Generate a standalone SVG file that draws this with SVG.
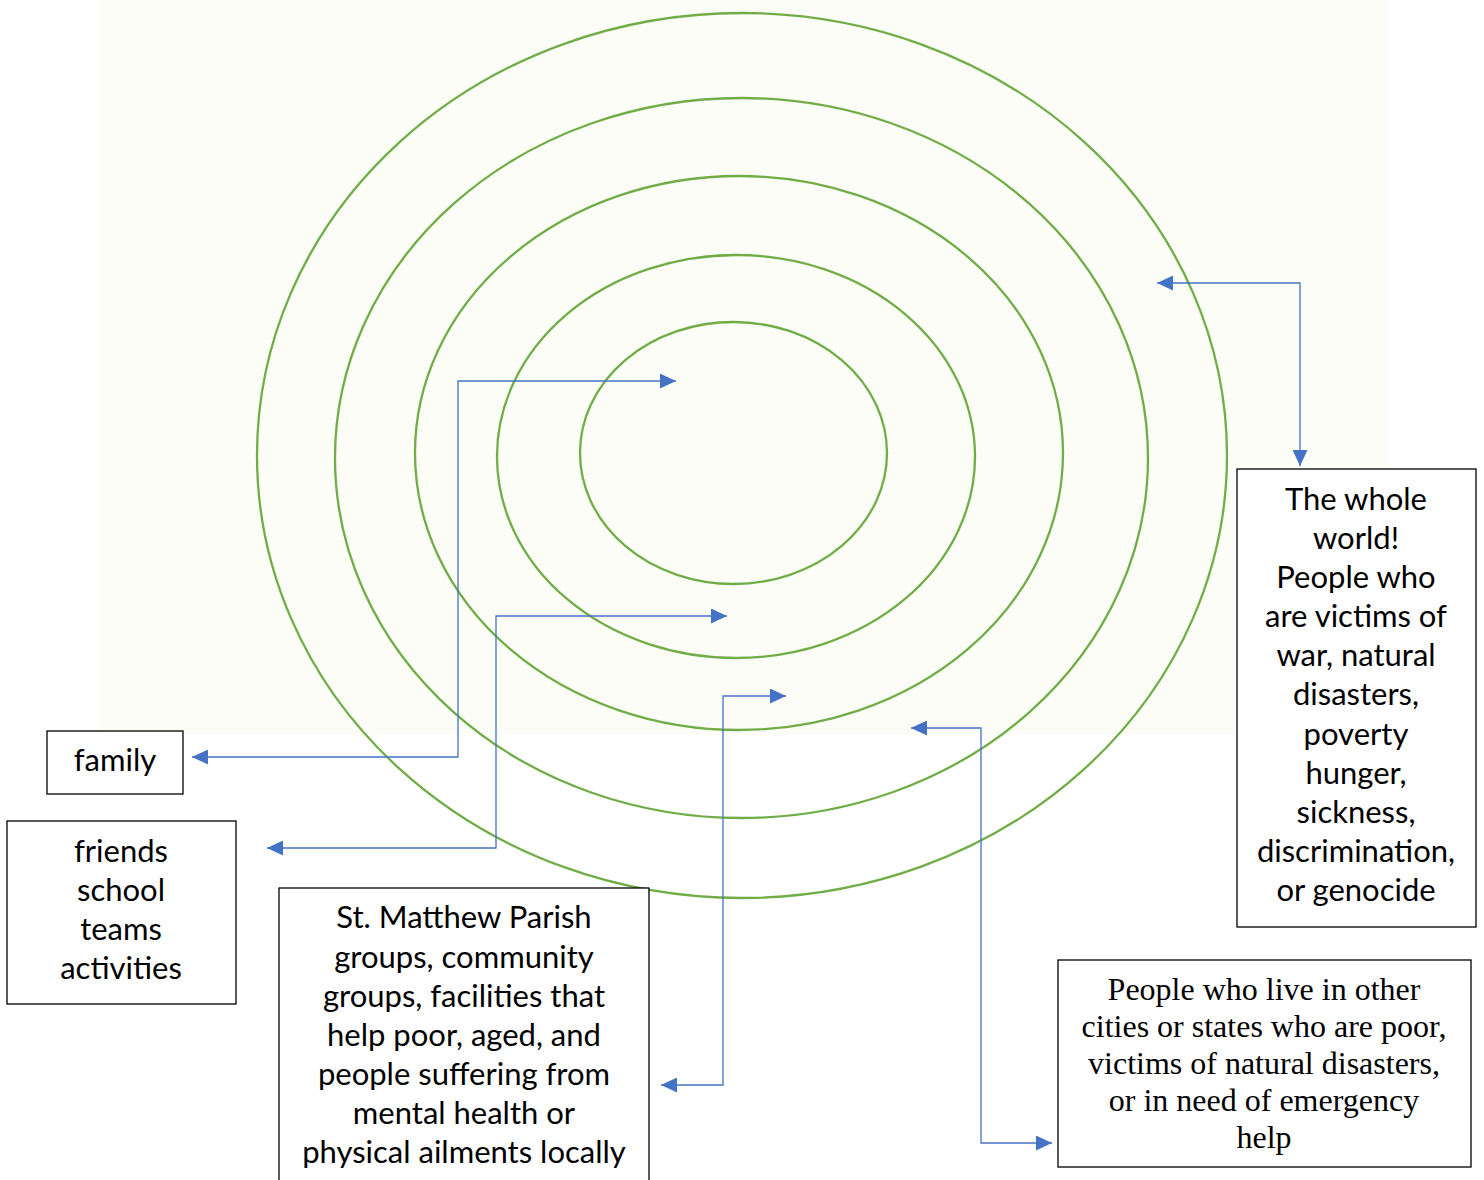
<svg xmlns="http://www.w3.org/2000/svg" width="1484" height="1180" viewBox="0 0 1484 1180">
<defs>
<marker id="arr" markerUnits="userSpaceOnUse" markerWidth="16" markerHeight="15" refX="16" refY="7.5" orient="auto-start-reverse" viewBox="0 0 16 15">
<path d="M0,0 L16,7.5 L0,15 z" fill="#4472C4"/>
</marker>
<style>
.ring{fill:none;stroke:#70AD47;stroke-width:2.3}
.con{fill:none;stroke:#4472C4;stroke-width:1.3;marker-start:url(#arr);marker-end:url(#arr)}
.box{fill:#fff;stroke:#000;stroke-width:1.3}
.sans{font-family:Lato,"Open Sans","Liberation Sans",sans-serif;font-size:31px;fill:#000;text-anchor:middle}
.serif{font-family:"Liberation Serif","Times New Roman",serif;font-size:32px;fill:#000;text-anchor:middle}
</style>
</defs>
<rect width="1484" height="1180" fill="#fff"/>
<rect x="98" y="0" width="1289" height="735" fill="#FDFDF8"/>
<g id="rings">
<ellipse class="ring" cx="742" cy="455.5" rx="485" ry="442.5"/>
<ellipse class="ring" cx="741.5" cy="458" rx="406.5" ry="360"/>
<ellipse class="ring" cx="739" cy="453" rx="324" ry="277"/>
<ellipse class="ring" cx="736" cy="456.5" rx="239" ry="201.5"/>
<ellipse class="ring" cx="733.5" cy="453" rx="153.5" ry="131"/>
</g>
<g id="connectors">
<path class="con" d="M192,757 H458 V381 H676"/>
<path class="con" d="M267,848 H496 V616 H727"/>
<path class="con" d="M661,1085 H723 V696 H786"/>
<path class="con" d="M911,728 H981 V1143 H1052"/>
<path class="con" d="M1157,283 H1300 V466"/>
</g>
<g id="family">
<rect class="box" x="47" y="731" width="136" height="63"/>
<text class="sans" x="115" y="771">family</text>
</g>
<g id="friends">
<rect class="box" x="7" y="821" width="229" height="183"/>
<text class="sans" x="121" y="862">friends</text>
<text class="sans" x="121" y="901">school</text>
<text class="sans" x="121" y="940">teams</text>
<text class="sans" x="121" y="979">activities</text>
</g>
<g id="parish">
<rect class="box" x="279" y="888" width="370" height="300"/>
<text class="sans" x="464" y="928">St. Matthew Parish</text>
<text class="sans" x="464" y="968">groups, community</text>
<text class="sans" x="464" y="1007">groups, facilities that</text>
<text class="sans" x="464" y="1046">help poor, aged, and</text>
<text class="sans" x="464" y="1085">people suffering from</text>
<text class="sans" x="464" y="1124">mental health or</text>
<text class="sans" x="464" y="1163">physical ailments locally</text>
</g>
<g id="world">
<rect class="box" x="1237" y="469" width="239" height="458"/>
<text class="sans" x="1356" y="510">The whole</text>
<text class="sans" x="1356" y="549">world!</text>
<text class="sans" x="1356" y="588">People who</text>
<text class="sans" x="1356" y="627">are victims of</text>
<text class="sans" x="1356" y="666">war, natural</text>
<text class="sans" x="1356" y="705">disasters,</text>
<text class="sans" x="1356" y="745">poverty</text>
<text class="sans" x="1356" y="784">hunger,</text>
<text class="sans" x="1356" y="823">sickness,</text>
<text class="sans" x="1356" y="862">discrimination,</text>
<text class="sans" x="1356" y="901">or genocide</text>
</g>
<g id="cities">
<rect class="box" x="1058" y="960" width="413" height="207"/>
<text class="serif" x="1264" y="1000">People who live in other</text>
<text class="serif" x="1264" y="1037">cities or states who are poor,</text>
<text class="serif" x="1264" y="1074">victims of natural disasters,</text>
<text class="serif" x="1264" y="1111">or in need of emergency</text>
<text class="serif" x="1264" y="1148">help</text>
</g>
</svg>
